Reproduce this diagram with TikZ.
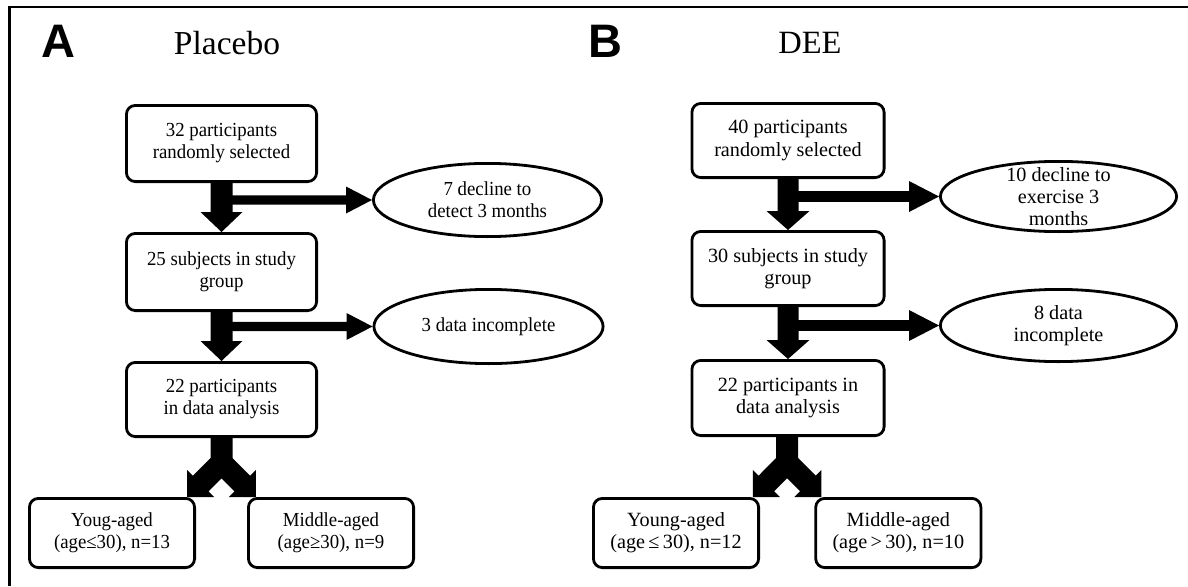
\documentclass[tikz,border=0pt]{standalone}
\usepackage{fontspec}
\setmainfont{Liberation Serif}
\newfontfamily\panelfont{Liberation Sans}
\newfontfamily\condfont{Liberation Serif}[FakeStretch=0.945]
\usetikzlibrary{shapes.geometric,calc,backgrounds}

% fat vertical arrow: #1 from node, #2 to node, #3 half shaft, #4 half head, #5 head length
\newcommand\myFatDown[5]{%
  \fill ($(#1.south)+(-#3,-3)$) -- ($(#2.north)+(-#3,-#5)$) -- ($(#2.north)+(-#4,-#5)$)
    -- (#2.north) -- ($(#2.north)+(#4,-#5)$) -- ($(#2.north)+(#3,-#5)$)
    -- ($(#1.south)+(#3,-3)$) -- cycle;}
% side arrow: #1 box it leaves, #2 ellipse, #3 half shaft, #4 half head, #5 head length
\newcommand\myFatSide[5]{%
  \fill ($(#1.south |- #2.west)+(0,-#3)$) -- ($(#2.west)+(-#5,-#3)$) -- ($(#2.west)+(-#5,-#4)$)
    -- (#2.west) -- ($(#2.west)+(-#5,#4)$) -- ($(#2.west)+(-#5,#3)$)
    -- ($(#1.south |- #2.west)+(0,#3)$) -- cycle;}
% split arrow at coordinate #1
\newcommand\mySplit[1]{%
  \fill[shift={(#1)}] (-11,-66) -- (-11,-39) -- (-28.6,-21.3) -- (-34.3,-27) -- (-34.3,0)
    -- (-7.3,0) -- (-13,-5.7) -- (0,-18.7) -- (13,-5.7) -- (7.3,0) -- (34.3,0)
    -- (34.3,-27) -- (28.6,-21.3) -- (11,-39) -- (11,-66) -- cycle;}

\begin{document}
\begin{tikzpicture}[x=1pt,y=-1pt,
  fontA/.style={font=\condfont\fontsize{19.9}{22}\selectfont},
  fontB/.style={font=\fontsize{20.2}{22.3}\selectfont},
  box/.style={draw, line width=2.8pt, rounded corners=9pt, fill=white,
    align=center, inner sep=0pt},
  oval/.style={draw, ellipse, line width=2.8pt, fill=white, inner sep=0pt},
  olabel/.style={align=center, inner sep=0pt},
  paneltag/.style={font=\panelfont\bfseries\fontsize{47}{47}\selectfont, anchor=base, inner sep=0pt},
  paneltitle/.style={anchor=base, inner sep=0pt},
]
\useasboundingbox (0,0) rectangle (1188,586);

% frame
\draw[line width=2.8pt] (9.5,586) -- (9.5,7) -- (1188,7);

% Panel A
\node[paneltag] (tagA) at (58.5,58) {A};
\node[paneltitle, font=\fontsize{33.5}{33.5}\selectfont] (titleA) at (227,55) {Placebo};

\node[box, fontA, minimum width=190.2pt, minimum height=76.2pt] (a1) at (221.5,143.5)
  {32 participants\\randomly selected};
\node[box, fontA, minimum width=190.2pt, minimum height=77.2pt] (a2) at (221.5,272)
  {25 subjects in study\\group};
\node[box, fontA, minimum width=190.2pt, minimum height=74.2pt] (a3) at (221.5,399.5)
  {22 participants\\in data analysis};
\node[box, fontA, minimum width=165.2pt, minimum height=69.2pt] (ya) at (112,533)
  {Youg-aged\\(age≤30), n=13};
\node[box, fontA, minimum width=165.2pt, minimum height=69.2pt] (ma) at (331,533)
  {Middle-aged\\(age≥30), n=9};
\node[oval, minimum width=228.2pt, minimum height=73.2pt,
  label={[olabel, fontA]center:7 decline to\\detect 3 months}] (ea1) at (487.5,200) {};
\node[oval, minimum width=229.2pt, minimum height=74.2pt,
  label={[olabel, fontA]center:3 data incomplete}] (ea2) at (488.5,326.5) {};
\coordinate (sA) at ($(ya.north east)!0.5!(ma.north west)$);

% Panel B
\node[paneltag] (tagB) at (605,58) {B};
\node[paneltitle, font=\fontsize{32.5}{32.5}\selectfont] (titleB) at (810,53) {DEE};

\node[box, fontB, minimum width=192.2pt, minimum height=74.2pt] (b1) at (788,140.5)
  {40 participants\\randomly selected};
\node[box, fontB, minimum width=192.2pt, minimum height=74.2pt] (b2) at (788,268.5)
  {30 subjects in study\\group};
\node[box, fontB, minimum width=192.2pt, minimum height=75.2pt] (b3) at (788,398)
  {22 participants in\\data analysis};
\node[box, fontB, minimum width=165.2pt, minimum height=69.2pt] (yb) at (676,533)
  {Young-aged\\(age\,≤\,30), n=12};
\node[box, fontB, minimum width=165.2pt, minimum height=69.2pt] (mb) at (898.3,533)
  {Middle-aged\\(age\,>\,30), n=10};
\node[oval, minimum width=236.2pt, minimum height=70.2pt,
  label={[olabel, fontB]center:10 decline to\\exercise 3\\months}] (eb1) at (1058.5,196.5) {};
\node[oval, minimum width=236.2pt, minimum height=72.2pt,
  label={[olabel, fontB]center:8 data\\incomplete}] (eb2) at (1058.5,325.5) {};
\coordinate (sB) at ($(yb.north east)!0.5!(mb.north west)$);

% connectors (behind boxes)
\begin{scope}[on background layer]
  \fill[white] (0,0) rectangle (1188,586);
  \myFatDown{a1}{a2}{11}{21}{20}
  \myFatSide{a1}{ea1}{4.7}{13.5}{26}
  \myFatDown{a2}{a3}{11}{21}{20}
  \myFatSide{a2}{ea2}{4.7}{13.5}{26}
  \mySplit{sA}
  \myFatDown{b1}{b2}{10.5}{21.5}{19}
  \myFatSide{b1}{eb1}{5.3}{15.5}{30}
  \myFatDown{b2}{b3}{10.5}{21.5}{19}
  \myFatSide{b2}{eb2}{5.3}{15.5}{30}
  \mySplit{sB}
\end{scope}
\end{tikzpicture}
\end{document}
